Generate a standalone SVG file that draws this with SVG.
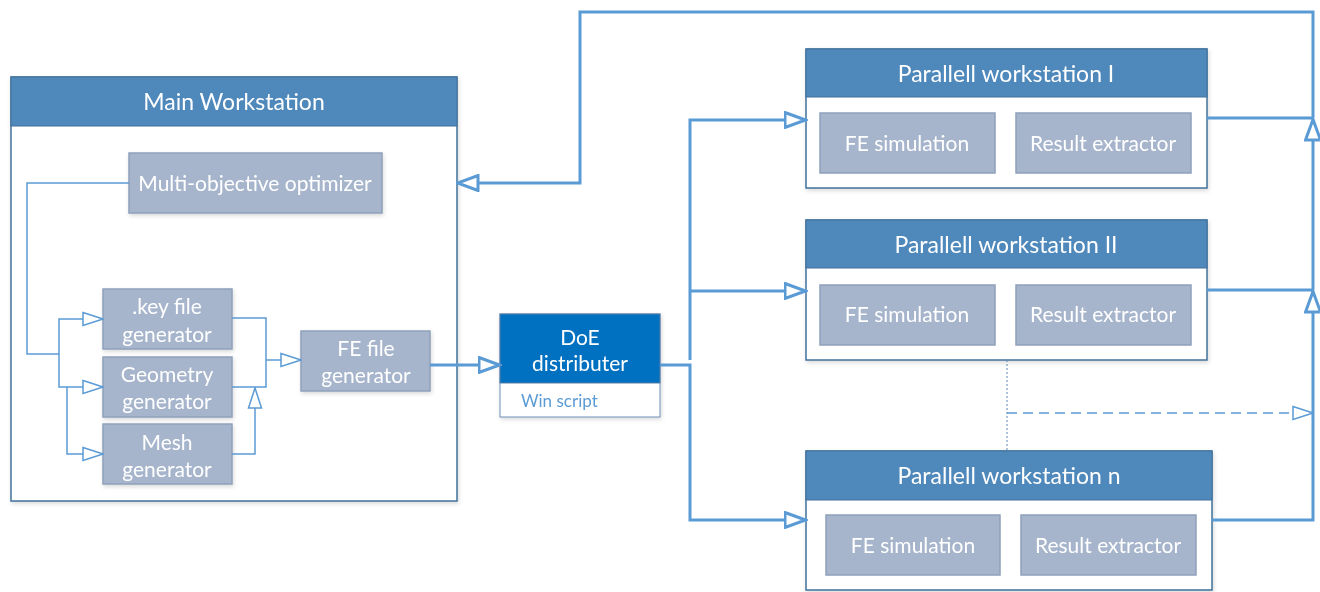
<svg xmlns="http://www.w3.org/2000/svg" width="1320" height="592" viewBox="0 0 1320 592">
<style>
.outer{fill:#fff;stroke:#41719c;stroke-width:1.5}
.hdr{fill:#4f88bb;stroke:#41719c;stroke-width:1}
.inner{fill:#a6b5cc;stroke:#8fa0bb;stroke-width:1.5}
.doe{fill:#0070c0;stroke:#5a7fa8;stroke-width:1}
.t{font-family:Lato,"Open Sans",sans-serif;fill:#fff;text-anchor:middle;dominant-baseline:central}
.tt{font-size:23px}
.ti{font-size:21px}
.thin{fill:none;stroke:#5b9bd5;stroke-width:1.5}
.thick{fill:none;stroke:#5b9bd5;stroke-width:3}
.dash{fill:none;stroke:#5b9bd5;stroke-width:1.5;stroke-dasharray:10 6}
.dot{fill:none;stroke:#5a86b8;stroke-width:1;stroke-dasharray:2 2}
</style>
<defs>
<filter id="sh" x="-5%" y="-5%" width="110%" height="115%"><feDropShadow dx="1" dy="2" stdDeviation="2" flood-color="#000" flood-opacity="0.15"/></filter>
<marker id="aThin" viewBox="0 0 22 16" markerWidth="22" markerHeight="16" refX="21" refY="8" orient="auto" markerUnits="userSpaceOnUse"><path d="M1,1.5 L21,8 L1,14.5 Z" fill="#fff" stroke="#5b9bd5" stroke-width="1.5"/></marker>
<marker id="aThick" viewBox="0 0 24 18" markerWidth="24" markerHeight="18" refX="22.5" refY="9" orient="auto" markerUnits="userSpaceOnUse"><path d="M1.5,1.5 L22,9 L1.5,16.5 Z" fill="#fff" stroke="#5b9bd5" stroke-width="3"/></marker>
</defs>

<g id="main-workstation" filter="url(#sh)">
<rect class="outer" x="11" y="77" width="446" height="424"/>
<rect class="hdr" x="11" y="77" width="446" height="49"/>
<text class="t tt" x="234" y="101">Main Workstation</text>
</g>
<g id="optimizer" filter="url(#sh)">
<rect class="inner" x="129" y="153" width="253" height="60"/>
<text class="t ti" x="255" y="182">Multi-objective optimizer</text>
</g>
<g id="key-gen" filter="url(#sh)">
<rect class="inner" x="103" y="289" width="129" height="60"/>
<text class="t ti" x="167" y="305">.key file</text>
<text class="t ti" x="167" y="333">generator</text>
</g>
<g id="geometry-gen" filter="url(#sh)">
<rect class="inner" x="103" y="357" width="129" height="60"/>
<text class="t ti" x="167" y="373">Geometry</text>
<text class="t ti" x="167" y="400">generator</text>
</g>
<g id="mesh-gen" filter="url(#sh)">
<rect class="inner" x="103" y="424" width="129" height="60"/>
<text class="t ti" x="167" y="441">Mesh</text>
<text class="t ti" x="167" y="468">generator</text>
</g>
<g id="fe-file-gen" filter="url(#sh)">
<rect class="inner" x="301" y="331" width="129" height="60"/>
<text class="t ti" x="366" y="347">FE file</text>
<text class="t ti" x="366" y="374">generator</text>
</g>

<g id="doe" filter="url(#sh)">
<rect class="outer" x="500" y="314" width="160" height="103" style="stroke:#6e8fb5;stroke-width:1"/>
<rect class="doe" x="500" y="314" width="160" height="69"/>
<text class="t ti" x="580" y="336">DoE</text>
<text class="t ti" x="580" y="362">distributer</text>
<text x="521" y="400" font-family="Lato,'Open Sans',sans-serif" font-size="17" fill="#5b9bd5" dominant-baseline="central">Win script</text>
</g>

<g id="pw1" filter="url(#sh)">
<rect class="outer" x="806" y="49" width="401" height="139"/>
<rect class="hdr" x="806" y="49" width="401" height="48"/>
<text class="t tt" x="1006" y="73">Parallell workstation I</text>
<rect class="inner" x="820" y="113" width="175" height="60"/>
<text class="t ti" x="907" y="142">FE simulation</text>
<rect class="inner" x="1016" y="113" width="175" height="60"/>
<text class="t ti" x="1103" y="142">Result extractor</text>
</g>
<g id="pw2" filter="url(#sh)">
<rect class="outer" x="806" y="220" width="401" height="140"/>
<rect class="hdr" x="806" y="220" width="401" height="48"/>
<text class="t tt" x="1006" y="244">Parallell workstation II</text>
<rect class="inner" x="820" y="285" width="175" height="60"/>
<text class="t ti" x="907" y="313">FE simulation</text>
<rect class="inner" x="1016" y="285" width="175" height="60"/>
<text class="t ti" x="1103" y="313">Result extractor</text>
</g>
<g id="pwn" filter="url(#sh)">
<rect class="outer" x="806" y="451" width="406" height="139"/>
<rect class="hdr" x="806" y="451" width="406" height="49"/>
<text class="t tt" x="1009" y="475">Parallell workstation n</text>
<rect class="inner" x="826" y="515" width="174" height="60"/>
<text class="t ti" x="913" y="544">FE simulation</text>
<rect class="inner" x="1021" y="515" width="175" height="60"/>
<text class="t ti" x="1108" y="544">Result extractor</text>
</g>

<g id="connectors">
<path class="thin" d="M129,183 H27 V354 H59"/>
<path class="thin" d="M59,354 V319 H103" marker-end="url(#aThin)"/>
<path class="thin" d="M59,354 V387 H103" marker-end="url(#aThin)"/>
<path class="thin" d="M67,387 V454 H103" marker-end="url(#aThin)"/>
<path class="thin" d="M232,318 H266 V387 H232"/>
<path class="thin" d="M266,360 H301" marker-end="url(#aThin)"/>
<path class="thin" d="M232,454 H255 V388" marker-end="url(#aThin)"/>
<path class="thick" d="M430,365 H500" marker-end="url(#aThick)"/>
<path class="thick" d="M660,365 H690 V520 H806" marker-end="url(#aThick)"/>
<path class="thick" d="M690,360 V120 H806" marker-end="url(#aThick)"/>
<path class="thick" d="M690,291 H806" marker-end="url(#aThick)"/>
<path class="thick" d="M1207,118 H1313"/>
<path class="thick" d="M1207,290 H1313"/>
<path class="thick" d="M1212,520 H1313 V291" marker-end="url(#aThick)"/>
<path class="thick" d="M1313,290 V119" marker-end="url(#aThick)"/>
<path class="thick" d="M1313,118 V12 H580 V183 H457" marker-end="url(#aThick)"/>
<path class="dot" d="M1007,360 V451"/>
<path class="dash" d="M1007,413 H1313" marker-end="url(#aThin)"/>
</g>
</svg>
